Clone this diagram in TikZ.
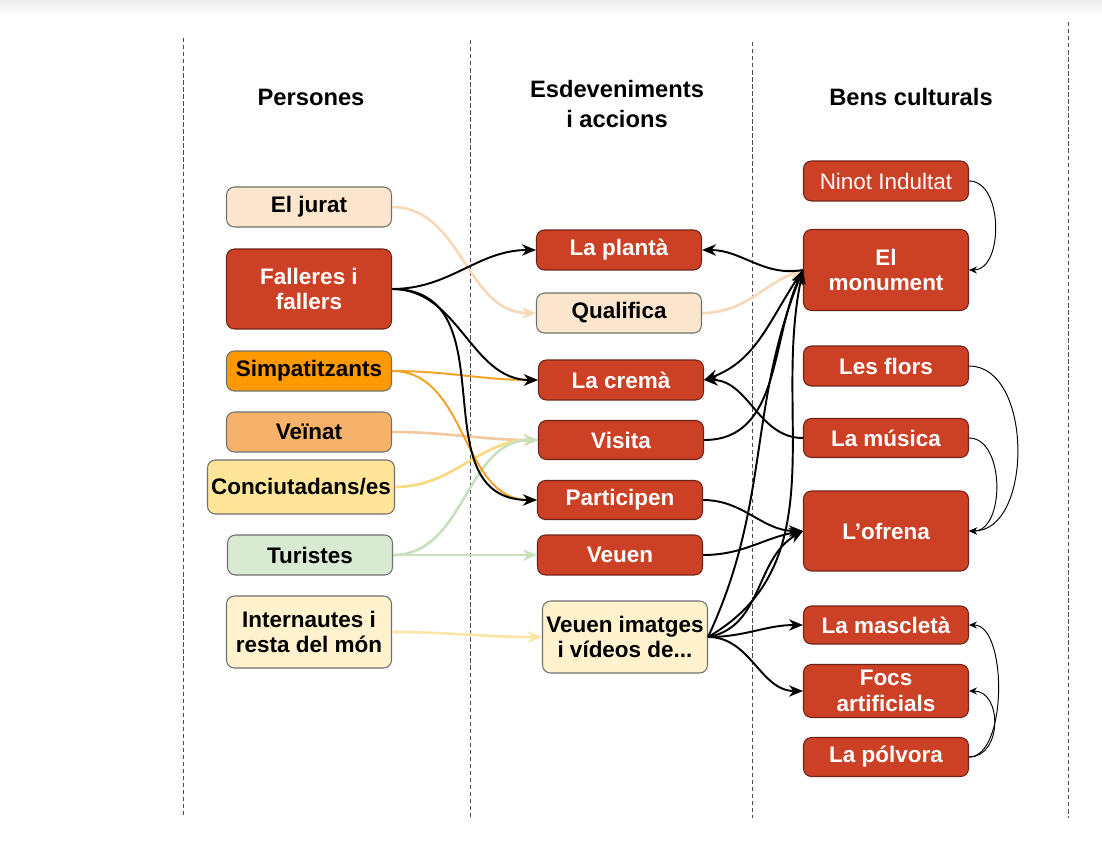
\documentclass[tikz,border=0pt]{standalone}
\usepackage{fontspec}
\setmainfont{Liberation Sans}
\usetikzlibrary{arrows.meta}
\usetikzlibrary{positioning}

\definecolor{falla}{HTML}{CC4125}
\definecolor{fallaline}{HTML}{6E2416}
\definecolor{boxline}{HTML}{707070}
\definecolor{peach}{HTML}{FCE5CD}
\definecolor{taronja}{HTML}{FF9900}
\definecolor{taronjaclar}{HTML}{F6B26B}
\definecolor{groc}{HTML}{FFE599}
\definecolor{verd}{HTML}{D9EAD3}
\definecolor{crema}{HTML}{FFF2CC}
\definecolor{linpeach}{HTML}{F7D9BA}
\definecolor{lintaronja}{HTML}{F5A126}
\definecolor{linveinat}{HTML}{F3C89D}
\definecolor{lingroc}{HTML}{F9D97E}
\definecolor{linverd}{HTML}{C8E0BE}
\definecolor{lincrema}{HTML}{FBE6A8}

\begin{document}
\begin{tikzpicture}[x=0.02cm,y=-0.02cm,
  box/.style={draw=boxline, line width=0.6pt, rounded corners=4.5pt,
    minimum width=3.3cm, minimum height=0.8cm, inner sep=2pt, align=center,
    font=\fontsize{12.8}{14.7}\selectfont\bfseries},
  redbox/.style={box, fill=falla, draw=fallaline, text=white},
  head/.style={align=center, font=\fontsize{13.5}{17.6}\selectfont\bfseries},
  arr/.style={-{Stealth[length=8pt,width=6.5pt]}, line width=1.1pt},
  softarr/.style={arr, line width=1.5pt},
  thinarr/.style={-{Stealth[length=4.5pt,width=4pt]}, line width=0.55pt},
  sep/.style={black!70, line width=0.5pt, dash pattern=on 2.5pt off 1.5pt}]

\useasboundingbox (0,0) rectangle (1102,868);
\fill[white] (0,0) rectangle (1102,868);
\shade[top color=gray!14, bottom color=white] (0,0) rectangle (1102,16);

% column separators
\draw[sep] (183,38) -- (183,818);
\draw[sep] (470,40) -- (470,818);
\draw[sep] (752,42) -- (752,818);
\draw[sep] (1068,22) -- (1068,818);

% headers
\node[head] (hpers) at (311,97) {Persones};
\node[head] (hesdev) at (617,104) {Esdeveniments\\i accions};
\node[head] (hbens) at (911,97) {Bens culturals};

% persones
\node[box, fill=peach] (jurat) at (309,207) {El jurat};
\node[redbox, minimum height=1.6cm] (fallers) at (309,289) {Falleres i\\fallers};
\node[box, fill=taronja] (simpat) at (309,371) {Simpatitzants};
\node[box, fill=taronjaclar] (veinat) at (309,432) {Veïnat};
\node[box, fill=groc, minimum width=3.62cm, minimum height=1.08cm] (conciut) at (301,487) {Conciutadans/es};
\node[box, fill=verd] (turistes) at (310,555) {Turistes};
\node[box, fill=crema, minimum height=1.44cm] (internautes) at (309,632) {Internautes i\\resta del món};

% esdeveniments i accions
\node[redbox] (planta) at (619,250) {La plantà};
\node[box, fill=peach] (qualifica) at (619,313) {Qualifica};
\node[redbox] (crema) at (621,380) {La cremà};
\node[redbox, minimum height=0.78cm] (visita) at (621,440) {Visita};
\node[redbox, minimum height=0.78cm] (participen) at (620,500) {Participen};
\node[redbox] (veuen) at (620,555) {Veuen};
\node[box, fill=crema, minimum height=1.44cm] (imatges) at (625,637) {Veuen imatges\\i vídeos de...};

% bens culturals
\node[redbox, font=\fontsize{12.8}{14.7}\selectfont] (ninot) at (886,181) {Ninot Indultat};
\node[redbox, minimum height=1.62cm] (monument) at (886,270) {El\\monument};
\node[redbox] (flors) at (886,366) {Les flors};
\node[redbox, minimum height=0.78cm] (musica) at (886,438) {La música};
\node[redbox, minimum height=1.6cm] (ofrena) at (886,531) {L’ofrena};
\node[redbox, minimum height=0.76cm] (mascleta) at (886,625) {La mascletà};
\node[redbox, minimum height=1.06cm] (focs) at (886,691) {Focs\\artificials};
\node[redbox, minimum height=0.78cm] (polvora) at (886,757) {La pólvora};

% persones -> accions
\draw[softarr, linpeach] (jurat.east) to[out=0,in=180] (qualifica.west);
\draw[softarr, linveinat] (veinat.east) to[out=0,in=180] (visita.west);
\draw[softarr, lingroc] (conciut.east) to[out=0,in=180] (visita.west);
\draw[softarr, linverd] (turistes.east) to[out=0,in=180] (visita.west);
\draw[softarr, linverd] (turistes.east) -- (veuen.west);
\draw[softarr, lincrema] (internautes.east) to[out=0,in=180] (imatges.west);
\draw[arr, lintaronja] (simpat.east) to[out=0,in=180] (crema.west);
\draw[arr, lintaronja] (simpat.east) to[out=0,in=180] (participen.west);
\draw[arr] (fallers.east) to[out=0,in=180] (planta.west);
\draw[arr] (fallers.east) to[out=0,in=180] (crema.west);
\draw[arr] (fallers.east) to[out=0,in=180,looseness=1.2] (participen.west);

% accions <-> bens
\draw[softarr, linpeach] (qualifica.east) to[out=0,in=200] (monument.west);
\draw[arr] (monument.west) to[out=190,in=0] (planta.east);
\draw[arr] (monument.west) to[out=235,in=20] (crema.east);
\draw[arr] (musica.west) to[out=180,in=0] (crema.east);
\draw[arr] (visita.east) to[out=0,in=245] (monument.west);
\draw[arr] (imatges.east) to[out=30,in=258] (monument.west);
\draw[arr] (imatges.east) to[out=65,in=248] (monument.west);
\draw[arr] (participen.east) to[out=0,in=180] (ofrena.west);
\draw[arr] (veuen.east) to[out=0,in=190] (ofrena.west);
\draw[arr] (imatges.east) to[out=10,in=210] (ofrena.west);
\draw[arr] (imatges.east) to[out=0,in=180] (mascleta.west);
\draw[arr] (imatges.east) to[out=0,in=180] (focs.west);

% bens -> bens
\draw[thinarr] (ninot.east) to[out=0,in=0] (monument.east);
\draw[thinarr] (flors.east) to[out=0,in=0] (ofrena.east);
\draw[thinarr] (musica.east) to[out=0,in=0] (ofrena.east);
\draw[thinarr] (polvora.east) to[out=0,in=0,looseness=0.75] (mascleta.east);
\draw[thinarr] (polvora.east) to[out=0,in=0,looseness=1.3] (focs.east);
\end{tikzpicture}
\end{document}
